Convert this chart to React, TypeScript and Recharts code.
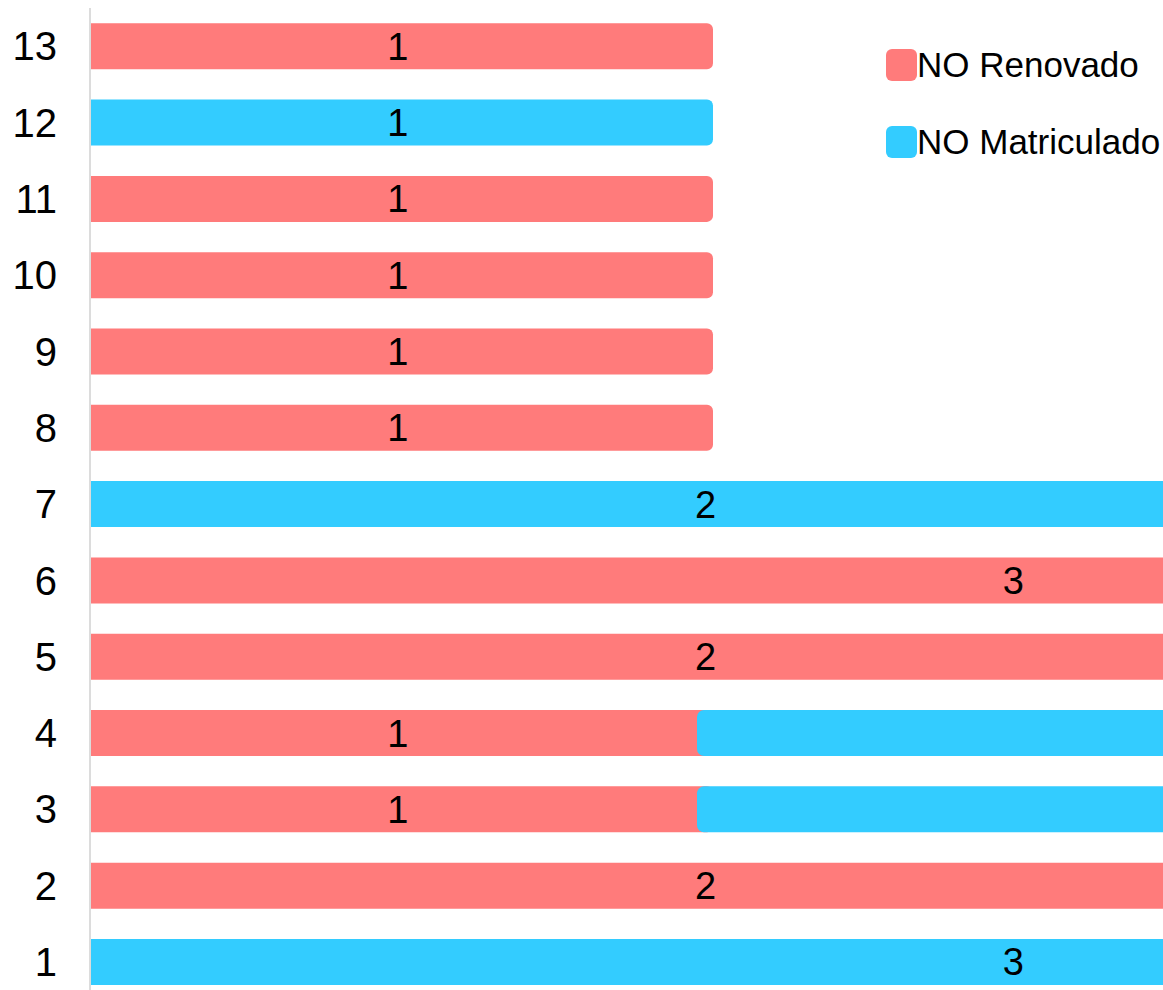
import React from 'react';
import { BarChart, Bar, XAxis, YAxis, Legend, LabelList, Rectangle } from 'recharts';

const categories = ['1', '2', '3', '4', '5', '6', '7', '8', '9', '10', '11', '12', '13'];
const noRenovado = [0, 2, 1, 1, 2, 3, 0, 1, 1, 1, 1, 0, 1];
const noMatriculado = [3, 0, 1, 1, 0, 0, 2, 0, 0, 0, 0, 1, 0];
const seriesNames = ['NO Renovado', 'NO Matriculado'];
const seriesColors = ['#FF7B7B', '#33CCFF'];
const xDomain = [0, 3];

const data = categories.map((c, i) => ({
  cat: c,
  renovado: noRenovado[i],
  matriculado: noMatriculado[i],
}));

const FONT = '"Liberation Sans", Arial, Helvetica, sans-serif';

const makeLabel = (isSecond: boolean) => (props: any) => {
  const vb = props.viewBox || {};
  const x = props.x ?? vb.x;
  const y = props.y ?? vb.y;
  const width = props.width ?? vb.width;
  const height = props.height ?? vb.height;
  const { value, index } = props;
  if (!value) return null;
  if (isSecond && noRenovado[index] > 0) return null;
  return (
    <text
      x={x + width * 0.494}
      y={y + height / 2}
      dy="0.355em"
      textAnchor="middle"
      fontSize={38}
      fontFamily={FONT}
      fill="#000"
    >
      {value}
    </text>
  );
};

const MatShape = (props: any) => {
  const { x, y, width, height, fill, payload } = props;
  if (!width || width <= 0) return null;
  if (payload && payload.renovado > 0) {
    return <rect x={x - 16} y={y} width={width + 16} height={height} rx={7} ry={7} fill={fill} />;
  }
  return <Rectangle x={x} y={y} width={width} height={height} fill={fill} radius={[0, 6, 6, 0]} />;
};

const renderLegend = (props: any) => {
  const payload = [...(props.payload || [])].sort(
    (a: any, b: any) => seriesNames.indexOf(a.value) - seriesNames.indexOf(b.value)
  );
  return (
    <div style={{ fontFamily: FONT }}>
      {payload.map((entry: any, i: number) => (
        <div
          key={i}
          style={{ display: 'flex', alignItems: 'center', height: 32, marginBottom: i === 0 ? 45 : 0 }}
        >
          <span
            style={{
              display: 'inline-block',
              width: 31,
              height: 32,
              background: entry.color,
              borderRadius: 6,
            }}
          />
          <span style={{ fontSize: 35, color: '#000', lineHeight: '32px', whiteSpace: 'nowrap' }}>
            {entry.value}
          </span>
        </div>
      ))}
    </div>
  );
};

export default function App() {
  return (
    <div style={{ position: 'fixed', left: 0, top: 0, width: 1163, height: 990, overflow: 'hidden', background: '#fff' }}>
      <div style={{ position: 'absolute', left: 8, top: 8 }}>
        <BarChart
          width={1951}
          height={992}
          data={data}
          layout="vertical"
          margin={{ top: 0, right: 0, bottom: 0, left: 0 }}
          barCategoryGap="20%"
        >
          <XAxis type="number" domain={xDomain} hide />
          <YAxis
            type="category"
            dataKey="cat"
            reversed
            width={82}
            tickLine={false}
            tickSize={6}
            tickMargin={27}
            axisLine={{ stroke: '#dcdcdc', strokeWidth: 2 }}
            tick={{ fontSize: 40, fill: '#000', fontFamily: FONT }}
            interval={0}
          />
          <Legend
            layout="vertical"
            align="center"
            verticalAlign="middle"
            content={renderLegend}
            wrapperStyle={{ left: 878, top: 41, width: 'auto', height: 'auto' }}
          />
          <Bar
            dataKey="renovado"
            name={seriesNames[0]}
            stackId="a"
            fill={seriesColors[0]}
            radius={[0, 6, 6, 0]}
            isAnimationActive={false}
          >
            <LabelList dataKey="renovado" content={makeLabel(false)} />
          </Bar>
          <Bar
            dataKey="matriculado"
            name={seriesNames[1]}
            stackId="a"
            fill={seriesColors[1]}
            shape={MatShape}
            isAnimationActive={false}
          >
            <LabelList dataKey="matriculado" content={makeLabel(true)} />
          </Bar>
        </BarChart>
      </div>
    </div>
  );
}
